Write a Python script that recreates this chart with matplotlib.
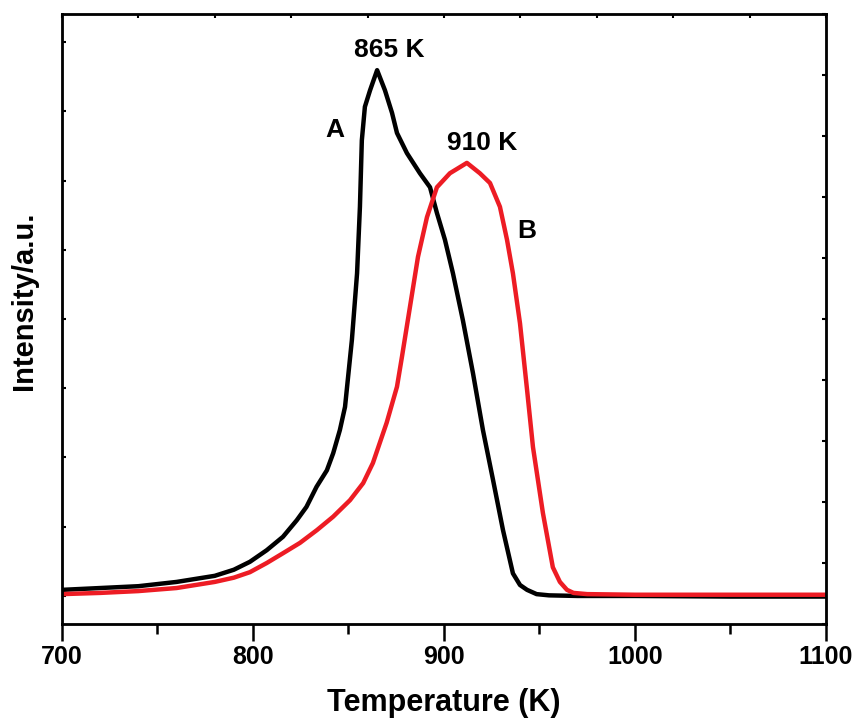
import numpy as np
import matplotlib
matplotlib.use("Agg")
import matplotlib.pyplot as plt

plt.rcParams["font.family"] = ["Liberation Sans", "DejaVu Sans"]
plt.rcParams["font.weight"] = "bold"
plt.rcParams["axes.labelweight"] = "bold"

# curve A (black)
temp_a = [700, 720, 740, 760, 780, 790, 798.4, 807.2, 815.7, 822.9, 828, 833.3,
          838.7, 842, 845.5, 848.2, 851.8, 854.5, 856, 857, 858.6, 861.3, 865,
          869.1, 872.8, 875.4, 880.6, 887.4, 892.7, 896.3, 900.5, 904.7, 909.9,
          915.2, 920.4, 925.7, 930.9, 936.1, 939.8, 943.5, 948.5, 955, 970,
          1000, 1050, 1100]
int_a = [5.6, 5.9, 6.2, 6.9, 7.9, 8.9, 10.2, 12.1, 14.3, 17.0, 19.2, 22.5,
         25.2, 28, 31.8, 35.6, 46.6, 57.5, 68.4, 79.3, 84.8, 87.5, 90.8,
         87.5, 83.8, 80.5, 77.2, 73.9, 71.6, 67.4, 63, 57.5, 49.8,
         41.1, 31.8, 23.6, 15.4, 8.3, 6.4, 5.6, 4.9, 4.7, 4.6,
         4.6, 4.5, 4.5]

# curve B (red)
temp_b = [700, 720, 740, 760, 780, 790, 798.4, 807.2, 815.7, 824.6, 833.5, 842,
          850.8, 857.7, 862.8, 870, 875.4, 878, 882.2, 886.4, 891.1, 896.3, 903.1,
          912, 918.8, 924.1, 929.3, 933, 936.1, 939.8, 943.5, 946.6, 951.8, 957,
          960.7, 964.4, 967.8, 975, 1000, 1050, 1100]
int_b = [4.9, 5.1, 5.4, 5.9, 6.9, 7.6, 8.5, 10, 11.6, 13.3, 15.4, 17.6,
         20.3, 23.1, 26.4, 33, 38.9, 43.8, 52, 60.2, 66.7, 71.6, 73.9,
         75.6, 73.9, 72.3, 68.4, 63, 57.5, 49.3, 38.4, 29, 18.2, 9.3,
         6.9, 5.6, 5.1, 4.9, 4.8, 4.8, 4.8]

peak_labels = ["865 K", "910 K"]
curve_labels = ["A", "B"]

fig = plt.figure(figsize=(8.57, 7.24), dpi=100)
ax = fig.add_axes([0.0723, 0.1381, 0.8915, 0.8425])

ax.plot(temp_a, int_a, color="black", lw=3.2, solid_joinstyle="round")
ax.plot(temp_b, int_b, color="#ed1c24", lw=3.2, solid_joinstyle="round")

ax.set_xlim(700, 1100)
ax.set_ylim(0, 100)

ax.set_xticks([700, 800, 900, 1000, 1100])
ax.set_xticks([750, 850, 950, 1050], minor=True)
ax.tick_params(axis="x", which="major", direction="out", length=12, width=1.8,
               labelsize=18, pad=3)
ax.tick_params(axis="x", which="minor", direction="out", length=7, width=1.8)
ax.set_yticks(np.linspace(4.6, 95.4, 9))
ax.set_yticklabels([])
ax.tick_params(axis="y", direction="in", length=3, width=1.5)
for s in ax.spines.values():
    s.set_linewidth(2)

ax_top = ax.twiny()
ax_top.set_xlim(0, 10)
ax_top.set_xticks(range(11))
ax_top.set_xticklabels([])
ax_top.tick_params(direction="in", length=3, width=1.5)
ax_right = ax.twinx()
ax_right.set_ylim(0, 10)
ax_right.set_yticks(range(11))
ax_right.set_yticklabels([])
ax_right.tick_params(direction="in", length=3, width=1.5)

ax.set_xlabel("Temperature (K)", fontsize=22, labelpad=14)
ax.set_ylabel("Intensity/a.u.", fontsize=21)
ax.yaxis.set_label_coords(-0.031, 0.53)

ax.text(871.5, 94.1, peak_labels[0], fontsize=19, ha="center", va="center")
ax.text(920, 78.9, peak_labels[1], fontsize=19, ha="center", va="center")
ax.text(843, 81, curve_labels[0], fontsize=19, ha="center", va="center")
ax.text(943.5, 64.4, curve_labels[1], fontsize=19, ha="center", va="center")

fig.savefig("out.png", dpi=100)
